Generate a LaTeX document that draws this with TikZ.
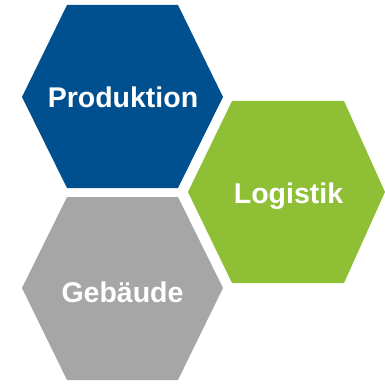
\documentclass[tikz,border=0pt]{standalone}
\usepackage{fontspec}
\setmainfont{Liberation Sans}
\definecolor{hexblue}{RGB}{0,80,144}
\definecolor{hexgreen}{RGB}{142,191,53}
\definecolor{hexgray}{RGB}{166,166,166}
\begin{document}
\begin{tikzpicture}[x=1pt,y=-1pt,
  lbl/.style={text=white,font=\bfseries\fontsize{28.5}{30}\selectfont,anchor=base,inner sep=0pt}]
\useasboundingbox (0,0) rectangle (384,385);
\fill[hexblue] (67,5) -- (178,5) -- (223,97) -- (178,188) -- (67,188) -- (22,97) -- cycle;
\fill[hexgreen] (232,101) -- (344,101) -- (385,192) -- (344,283) -- (232,283) -- (188,192) -- cycle;
\fill[hexgray] (67,197) -- (178,197) -- (223,288) -- (178,380) -- (67,380) -- (22,288) -- cycle;
\node[lbl] (prod) at (123,107) {Produktion};
\node[lbl] (log) at (288.5,203) {Logistik};
\node[lbl] (geb) at (122.5,302) {Gebäude};
\end{tikzpicture}
\end{document}
